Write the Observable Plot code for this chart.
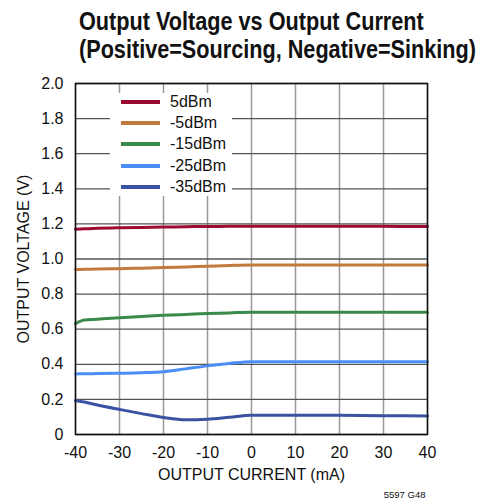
<!DOCTYPE html>
<html><head><meta charset="utf-8">
<script src="https://cdn.jsdelivr.net/npm/d3@7"></script>
<script src="https://cdn.jsdelivr.net/npm/@observablehq/plot@0.6"></script>
<style>
body{margin:0;background:#fff;}
#wrap{position:relative;width:484px;height:500px;overflow:hidden;}
#wrap svg{position:absolute;left:0;top:0;}
#title{position:absolute;left:79px;top:7px;font-family:"Liberation Sans",Arial,sans-serif;font-weight:bold;font-size:25px;line-height:28px;color:#111;white-space:nowrap;transform-origin:0 0;}
#title span{display:inline-block;}
#legend{position:absolute;left:110px;top:93px;width:122px;height:103px;background:#fff;font-family:"Liberation Sans",Arial,sans-serif;font-size:16px;color:#111;}
.sw{position:absolute;left:11px;width:39px;height:4px;}
.lb{position:absolute;left:60px;line-height:18px;white-space:nowrap;}
</style>
</head><body>
<div id="wrap">
<div id="title"><span id="t1">Output Voltage vs Output Current</span><br><span id="t2">(Positive=Sourcing, Negative=Sinking)</span></div>
</div>
<script>
const current = [-40, -38, -35, -30, -25, -20, -15, -10, -5, 0, 10, 20, 30, 40];
const seriesNames = ["5dBm", "-5dBm", "-15dBm", "-25dBm", "-35dBm"];
const seriesColors = ["#9b0a30", "#c27a3c", "#3a8a4a", "#4b8ef5", "#3a52a2"];
const v5dBm   = [1.170, 1.172, 1.175, 1.178, 1.180, 1.182, 1.184, 1.185, 1.186, 1.187, 1.187, 1.186, 1.186, 1.185];
const vm5dBm  = [0.940, 0.941, 0.943, 0.945, 0.948, 0.951, 0.955, 0.959, 0.963, 0.966, 0.966, 0.966, 0.966, 0.966];
const vm15dBm = [0.632, 0.652, 0.657, 0.665, 0.672, 0.679, 0.684, 0.689, 0.693, 0.697, 0.697, 0.697, 0.697, 0.697];
const vm25dBm = [0.345, 0.346, 0.347, 0.349, 0.352, 0.358, 0.374, 0.391, 0.405, 0.415, 0.415, 0.415, 0.415, 0.415];
const vm35dBm = [0.194, 0.185, 0.168, 0.143, 0.119, 0.097, 0.084, 0.087, 0.098, 0.109, 0.110, 0.109, 0.107, 0.106];
const xTicks = [-40, -30, -20, -10, 0, 10, 20, 30, 40];
const yTicks = [0, 0.2, 0.4, 0.6, 0.8, 1.0, 1.2, 1.4, 1.6, 1.8, 2.0];
const xLabel = "OUTPUT CURRENT (mA)";
const yLabel = "OUTPUT VOLTAGE (V)";
const footnote = "5597 G48";

const allSeries = [v5dBm, vm5dBm, vm15dBm, vm25dBm, vm35dBm];
const rows = [];
allSeries.forEach((vals, i) => vals.forEach((v, j) => rows.push({series: seriesNames[i], x: current[j], y: v})));

const sans = '"Liberation Sans",Arial,sans-serif';

const chart = Plot.plot({
  width: 484, height: 500,
  marginTop: 83, marginRight: 57, marginBottom: 66, marginLeft: 75,
  style: {fontFamily: sans, fontSize: "16px", color: "#111", background: "transparent"},
  x: {domain: [-40, 40]},
  y: {domain: [0, 2]},
  color: {domain: seriesNames, range: seriesColors},
  marks: [
    Plot.gridX(xTicks, {stroke: "#999", strokeOpacity: 1, strokeWidth: 1.5}),
    Plot.gridY(yTicks, {stroke: "#555", strokeOpacity: 1, strokeWidth: 1.3}),
    Plot.axisX(xTicks, {tickSize: 0, tickPadding: 12, label: null, tickFormat: d => String(d)}),
    Plot.axisY(yTicks, {tickSize: 0, tickPadding: 12, label: null, tickFormat: d => d === 0 ? "0" : d.toFixed(1)}),
    Plot.line(rows, {x: "x", y: "y", z: "series", stroke: "series", strokeWidth: 3, curve: "monotone-x"}),
    Plot.frame({stroke: "#111", strokeWidth: 1.5}),
    Plot.text([xLabel], {text: d => d, frameAnchor: "bottom", dy: 45, fontSize: 16}),
    Plot.text([yLabel], {text: d => d, frameAnchor: "left", textAnchor: "middle", dx: -52, rotate: -90, fontSize: 16}),
    Plot.text([footnote], {text: d => d, frameAnchor: "bottom-right", dx: -2, dy: 63, fontSize: 9.5})
  ]
});
const wrap = document.getElementById("wrap");
wrap.insertBefore(chart, wrap.firstChild);

const legend = document.createElement("div");
legend.id = "legend";
const rowY = [9, 30, 51, 72.5, 94];
seriesNames.forEach((name, i) => {
  const sw = document.createElement("div");
  sw.className = "sw";
  sw.style.top = (rowY[i] - 2) + "px";
  sw.style.background = seriesColors[i];
  legend.appendChild(sw);
  const lb = document.createElement("div");
  lb.className = "lb";
  lb.style.top = (rowY[i] - 9) + "px";
  lb.textContent = name;
  legend.appendChild(lb);
});
wrap.appendChild(legend);

const t2w = document.getElementById("t2").getBoundingClientRect().width;
document.getElementById("title").style.transform = `scaleX(${397 / t2w})`;
</script>
</body></html>
